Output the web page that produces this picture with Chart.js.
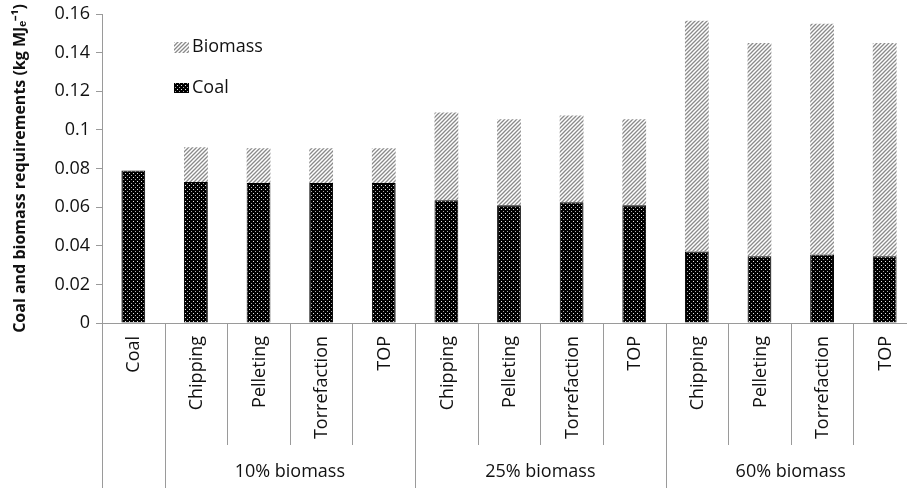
<!DOCTYPE html>
<html>
<head>
<meta charset="utf-8">
<script src="https://cdn.jsdelivr.net/npm/chart.js@4"></script>
<style>
  html, body { margin: 0; padding: 0; background: #fff; overflow: hidden; }
  #wrap { width: 916px; height: 488px; position: relative; }
</style>
</head>
<body>
<div id="wrap"><canvas id="chart"></canvas></div>
<script>
const categories = ["Coal", "Chipping", "Pelleting", "Torrefaction", "TOP",
  "Chipping", "Pelleting", "Torrefaction", "TOP",
  "Chipping", "Pelleting", "Torrefaction", "TOP"];
const groups = [
  { label: "", from: 0, to: 0 },
  { label: "10% biomass", from: 1, to: 4 },
  { label: "25% biomass", from: 5, to: 8 },
  { label: "60% biomass", from: 9, to: 12 }
];
const coal = [0.079, 0.073, 0.0725, 0.0725, 0.0725, 0.0635, 0.061, 0.0625, 0.061, 0.037, 0.0345, 0.0355, 0.0345];
const biomass = [0, 0.018, 0.018, 0.018, 0.018, 0.0455, 0.0445, 0.045, 0.0445, 0.1195, 0.1105, 0.1195, 0.1105];
const yTicks = [0, 0.02, 0.04, 0.06, 0.08, 0.1, 0.12, 0.14, 0.16];

const FONT = "'Open Sans', sans-serif";
const axisGrey = "#9a9a9a";

function makeCoalPattern() {
  const c = document.createElement("canvas");
  c.width = 4; c.height = 4;
  const g = c.getContext("2d");
  g.fillStyle = "#000";
  g.fillRect(0, 0, 4, 4);
  g.fillStyle = "#e6e6e6";
  g.fillRect(1, 1, 1, 1);
  g.fillStyle = "#aaa";
  g.fillRect(3, 3, 1, 1);
  return g.createPattern(c, "repeat");
}

function makeBiomassPattern() {
  const c = document.createElement("canvas");
  c.width = 4; c.height = 4;
  const g = c.getContext("2d");
  g.fillStyle = "#fff";
  g.fillRect(0, 0, 4, 4);
  g.strokeStyle = "#8a8a8a";
  g.lineWidth = 1.3;
  g.beginPath();
  g.moveTo(-1, 5); g.lineTo(5, -1);
  g.moveTo(-1, 1); g.lineTo(1, -1);
  g.moveTo(3, 5); g.lineTo(5, 3);
  g.stroke();
  return g.createPattern(c, "repeat");
}

const coalFill = makeCoalPattern();
const bioFill = makeBiomassPattern();

// category labels, dividers, group labels and the legend
const extras = {
  id: "extras",
  afterDraw(chart) {
    const ctx = chart.ctx;
    const x = chart.scales.x;
    const area = chart.chartArea;
    const half = (x.getPixelForValue(1) - x.getPixelForValue(0)) / 2;
    const yAxis = area.bottom;
    ctx.save();
    ctx.strokeStyle = axisGrey;
    ctx.lineWidth = 1;
    const groupStarts = groups.map(g => g.from);
    for (let i = 0; i < categories.length; i++) {
      const left = Math.round(x.getPixelForValue(i) - half) + 0.5;
      const bottom = groupStarts.includes(i) ? 488 : 445;
      ctx.beginPath();
      ctx.moveTo(left, yAxis);
      ctx.lineTo(left, bottom);
      ctx.stroke();
    }
    ctx.fillStyle = "#111";
    ctx.font = "18px " + FONT;
    categories.forEach((name, i) => {
      ctx.save();
      ctx.translate(x.getPixelForValue(i), yAxis + 13);
      ctx.rotate(-Math.PI / 2);
      ctx.textAlign = "right";
      ctx.textBaseline = "middle";
      ctx.fillText(name, 0, 1);
      ctx.restore();
    });
    ctx.textAlign = "center";
    ctx.textBaseline = "middle";
    groups.forEach(g => {
      if (!g.label) return;
      const cx = (x.getPixelForValue(g.from) + x.getPixelForValue(g.to)) / 2;
      ctx.fillText(g.label, cx, 472);
    });
    // legend
    ctx.textAlign = "left";
    ctx.fillStyle = bioFill;
    ctx.fillRect(174, 42, 15, 11);
    ctx.fillStyle = coalFill;
    ctx.fillRect(174, 83, 15, 10);
    ctx.fillStyle = "#111";
    ctx.fillText("Biomass", 192, 47);
    ctx.fillText("Coal", 192, 88);
    ctx.restore();
  }
};

new Chart(document.getElementById("chart"), {
  type: "bar",
  data: {
    labels: categories,
    datasets: [
      {
        label: "Coal",
        data: coal,
        backgroundColor: coalFill,
        borderColor: "#000",
        borderWidth: 1,
        barPercentage: 0.38,
        categoryPercentage: 1
      },
      {
        label: "Biomass",
        data: biomass,
        backgroundColor: bioFill,
        borderWidth: 0,
        barPercentage: 0.38,
        categoryPercentage: 1
      }
    ]
  },
  options: {
    responsive: true,
    maintainAspectRatio: false,
    animation: false,
    devicePixelRatio: 1,
    layout: { padding: { top: 14, right: 0, bottom: 157, left: 0 } },
    plugins: {
      legend: { display: false },
      tooltip: { enabled: false }
    },
    scales: {
      x: {
        stacked: true,
        ticks: { display: false },
        grid: { display: false },
        border: { display: true, color: axisGrey, width: 1 }
      },
      y: {
        stacked: true,
        min: 0,
        max: 0.16,
        afterFit: s => { s.width = 102; s.paddingTop = 0; s.paddingBottom = 0; },
        afterBuildTicks: s => { s.ticks = yTicks.map(v => ({ value: v })); },
        ticks: {
          color: "#111",
          font: { family: FONT, size: 18 },
          padding: 6,
          callback: v => String(+v.toFixed(2))
        },
        grid: { drawOnChartArea: false, drawTicks: true, tickLength: 6, color: axisGrey },
        border: { display: true, color: axisGrey, width: 1 },
        title: {
          display: true,
          text: "Coal and biomass requirements (kg MJₑ⁻¹)",
          color: "#111",
          font: { family: FONT, size: 16, weight: "bold" },
          padding: { top: 11, bottom: 0 }
        }
      }
    }
  },
  plugins: [extras]
});
</script>
</body>
</html>
